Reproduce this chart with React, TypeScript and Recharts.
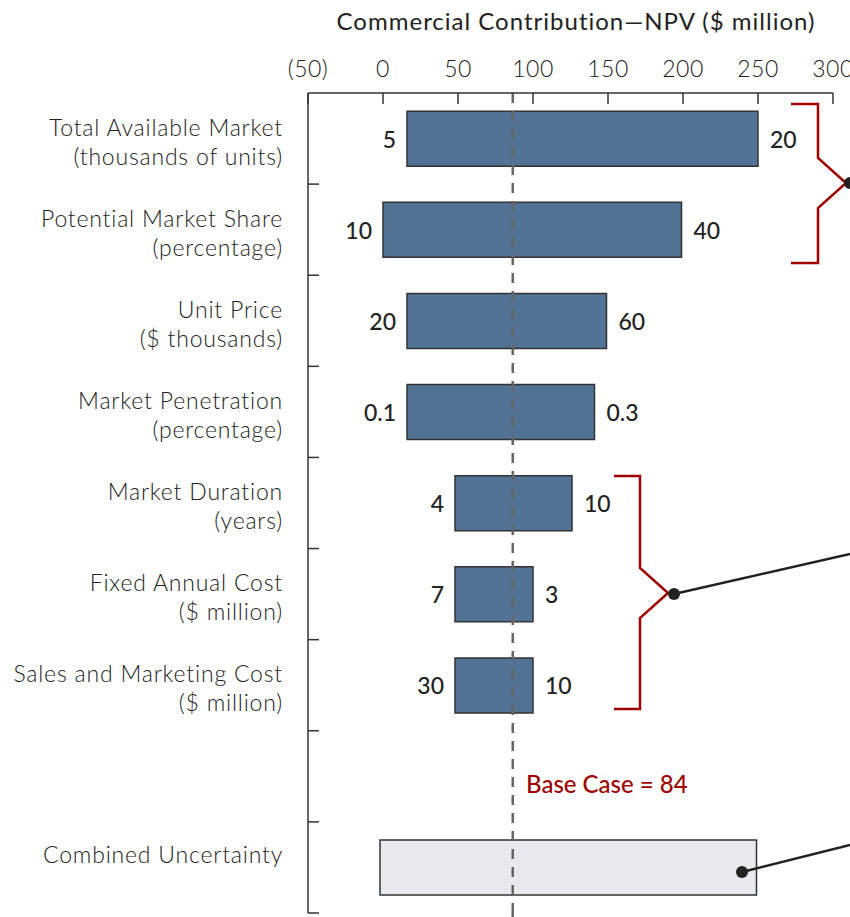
import { BarChart, Bar, XAxis, YAxis, ReferenceLine, LabelList, Cell } from "recharts";

// rows, top to bottom ("" = spacer row)
const categories = [
  "Total Available Market|(thousands of units)",
  "Potential Market Share|(percentage)",
  "Unit Price|($ thousands)",
  "Market Penetration|(percentage)",
  "Market Duration|(years)",
  "Fixed Annual Cost|($ million)",
  "Sales and Marketing Cost|($ million)",
  "",
  "Combined Uncertainty",
];
const npvLow = [16, 0, 16, 16, 48, 48, 48, null, -2];
const npvHigh = [250, 199, 149, 141, 126, 100, 100, null, 249];
const lowLabels = ["5", "10", "20", "0.1", "4", "7", "30", "", ""];
const highLabels = ["20", "40", "60", "0.3", "10", "3", "10", "", ""];
const xTicks = [-50, 0, 50, 100, 150, 200, 250, 300];
const baseCase = 84;
const baseCaseLine = 86.5; // where the dashed line sits in the picture

const W = 850;
const H = 917;
const M = { top: 53, right: 17, bottom: 4, left: 0 };
const Y_W = 308;
const X_H = 40;
const plotTop = M.top + X_H;
const plotBottom = H - M.bottom;
const plotLeft = Y_W;
const band = (plotBottom - plotTop) / categories.length;

const font = "Lato, 'Open Sans', sans-serif";
const ink = "#333";
const red = "#a00000";

const data = categories.map((name, i) => ({
  name,
  range: npvLow[i] == null ? null : [npvLow[i], npvHigh[i]],
  lowLabel: lowLabels[i],
  highLabel: highLabels[i],
}));

const fmt = (v: number) => (v < 0 ? `(${-v})` : `${v}`);

function XTick({ x, y, payload }: any) {
  return (
    <g>
      <text x={x} y={y} textAnchor="middle" dominantBaseline="central" fontFamily={font} fontWeight={300} fontSize={23} letterSpacing={0.5} fill="#222">
        {fmt(payload.value)}
      </text>
      <line x1={x} x2={x} y1={y + 25} y2={y + 36} stroke={ink} strokeWidth={1.5} />
    </g>
  );
}

function YTick({ x, y, payload }: any) {
  const lines = String(payload.value).split("|").filter(Boolean);
  const offs = lines.length === 2 ? [-12, 17] : [-13];
  return (
    <g>
      {lines.map((l, i) => (
        <text key={i} x={x} y={y + offs[i]} textAnchor="end" dominantBaseline="central" fontFamily={font} fontWeight={300} fontSize={23} letterSpacing={0.8} fill="#222">
          {l}
        </text>
      ))}
    </g>
  );
}

const lowContent = (p: any) => {
  if (!p.value) return null;
  return (
    <text x={p.x - 11} y={p.y + p.height / 2} textAnchor="end" dominantBaseline="central" fontFamily={font} fontWeight={500} fontSize={23} fill="#222">
      {p.value}
    </text>
  );
};

const highContent = (p: any) => {
  if (!p.value) return null;
  return (
    <text x={p.x + p.width + 12} y={p.y + p.height / 2} textAnchor="start" dominantBaseline="central" fontFamily={font} fontWeight={500} fontSize={23} fill="#222">
      {p.value}
    </text>
  );
};

function bracket(x0: number, x1: number, tip: number, top: number, mid: number, bottom: number) {
  const d = 25;
  return `M${x0},${top} H${x1} V${mid - d} L${tip},${mid} L${x1},${mid + d} V${bottom} H${x0}`;
}

export default function App() {
  return (
    <div style={{ position: "absolute", left: 0, top: 0, width: W, height: H, background: "#fff" }}>
      <BarChart layout="vertical" width={W} height={H} data={data} margin={M} barCategoryGap="20%">
        <XAxis
          type="number"
          orientation="top"
          domain={[-50, 300]}
          ticks={xTicks}
          height={X_H}
          tickSize={0}
          tickMargin={25}
          tick={<XTick />}
          tickLine={false}
          axisLine={{ stroke: ink, strokeWidth: 1.5 }}
        />
        <YAxis
          type="category"
          dataKey="name"
          width={Y_W}
          interval={0}
          tickSize={0}
          tickMargin={25}
          tick={<YTick />}
          tickLine={false}
          axisLine={{ stroke: ink, strokeWidth: 1.5 }}
        />
        <Bar dataKey="range" isAnimationActive={false} stroke={ink} strokeWidth={1.5}>
          {data.map((d, i) => (
            <Cell key={i} fill={d.name === "Combined Uncertainty" ? "#e6e9ee" : "#527396"} />
          ))}
          <LabelList dataKey="lowLabel" content={lowContent} />
          <LabelList dataKey="highLabel" content={highContent} />
        </Bar>
        <ReferenceLine x={baseCaseLine} stroke="#666" strokeWidth={2.5} strokeDasharray="10 8" />
      </BarChart>
      <svg width={W} height={H} style={{ position: "absolute", left: 0, top: 0, pointerEvents: "none" }}>
        <text x={576} y={20} textAnchor="middle" dominantBaseline="central" fontFamily={font} fontWeight={400} fontSize={24} letterSpacing={1} fill="#222">
          Commercial Contribution—NPV ($ million)
        </text>
        {categories.map((_, i) => (
          <line key={i} x1={plotLeft} x2={plotLeft + 11} y1={plotTop + band * (i + 1)} y2={plotTop + band * (i + 1)} stroke={ink} strokeWidth={1.5} />
        ))}
        <line x1={512.7} x2={512.7} y1={plotBottom} y2={H} stroke="#666" strokeWidth={2.5} strokeDasharray="4 8" />
        <text x={526} y={783} dominantBaseline="central" fontFamily={font} fontWeight={500} fontSize={24} fill={red}>
          {`Base Case = ${baseCase}`}
        </text>
        <path d={bracket(791, 818, 846, 104, 183, 263)} fill="none" stroke={red} strokeWidth={2.5} />
        <path d={bracket(614, 640, 668, 476, 593, 709)} fill="none" stroke={red} strokeWidth={2.5} />
        <line x1={674} y1={594} x2={850} y2={554} stroke="#222" strokeWidth={2.5} />
        <circle cx={674} cy={594} r={6} fill="#222" />
        <line x1={742} y1={872} x2={850} y2={845} stroke="#222" strokeWidth={2.5} />
        <circle cx={742} cy={872} r={6} fill="#222" />
        <circle cx={850} cy={183} r={6} fill="#222" />
      </svg>
    </div>
  );
}
